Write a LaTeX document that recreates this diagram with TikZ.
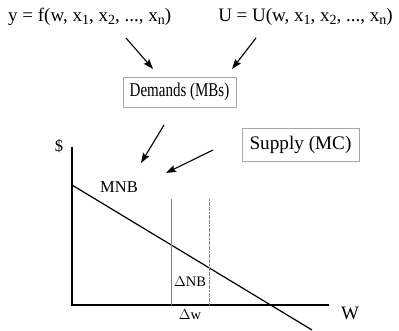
\documentclass[tikz,border=0pt]{standalone}
\usepackage{fontspec}
\setmainfont{Liberation Serif}
\newfontfamily\condfont[FakeStretch=0.77]{Liberation Serif}
\usetikzlibrary{arrows.meta}
\newcommand\subx[1]{\raisebox{-0.3ex}{\fontsize{14}{15}\selectfont #1}}
\begin{document}
\begin{tikzpicture}[x=1pt,y=-1pt,
  lbl/.style={inner sep=0pt,font=\fontsize{19}{21}\selectfont},
  mid/.style={inner sep=0pt,font=\fontsize{16.5}{18}\selectfont},
  small/.style={inner sep=0pt,font=\fontsize{14.5}{16}\selectfont},
  boxed/.style={draw=black!35,line width=0.9pt,inner sep=0pt,font=\fontsize{19.2}{21}\selectfont},
  arr/.style={-{Stealth[length=10pt,width=7pt,inset=1.5pt]},line width=1.1pt},
  axis/.style={line width=2pt},
  guide/.style={draw=black!50,line width=0.7pt}]
\useasboundingbox (0,0) rectangle (399,331);
\node[lbl,anchor=west] (f) at (8,17) {y = f(w, x\subx{1}, x\subx{2}, ..., x\subx{n})};
\node[lbl,anchor=east] (u) at (393,17) {U = U(w, x\subx{1}, x\subx{2}, ..., x\subx{n})};
\node[boxed,minimum width=113pt,minimum height=30pt,font=\condfont\fontsize{19.5}{21}\selectfont] (dem) at (179.5,92) {Demands (MBs)};
\node[boxed,minimum width=117pt,minimum height=33pt] (sup) at (300.5,144.5) {Supply (MC)};
\coordinate (fa) at (126,38);
\coordinate (fb) at (153,69);
\coordinate (ua) at (256,38);
\coordinate (ub) at (232,69);
\draw[arr] (fa) -- (fb);
\draw[arr] (ua) -- (ub);
\coordinate (da) at (164,125);
\coordinate (db) at (141,163);
\coordinate (sa) at (213,150);
\coordinate (sb) at (166,173);
\draw[arr] (da) -- (db);
\draw[arr] (sa) -- (sb);
% axes
\coordinate (o) at (72,305);
\coordinate (ytop) at (72,147);
\coordinate (xend) at (329,305);
\draw[axis] (ytop) -- (o) -- (xend);
\node[mid] (dollar) at (59,146) {\$};
\node[lbl] (w) at (350,313) {W};
% MNB line
\coordinate (m1) at (72,185);
\coordinate (m2) at (312,330);
\draw[line width=1.2pt] (m1) -- (m2);
\node[mid] (mnb) at (119,187) {MNB};
% guides
\coordinate (g1t) at (171,199);
\coordinate (g1b) at (171,305);
\coordinate (g2t) at (209,199);
\coordinate (g2b) at (209,305);
\draw[guide] (g1t) -- (g1b);
\draw[guide,dash pattern=on 2pt off 0.6pt] (g2t) -- (g2b);
\node[small] (dnb) at (190,282) {$\Delta$NB};
\node[small] (dw) at (190,315) {$\Delta$w};
\end{tikzpicture}
\end{document}
